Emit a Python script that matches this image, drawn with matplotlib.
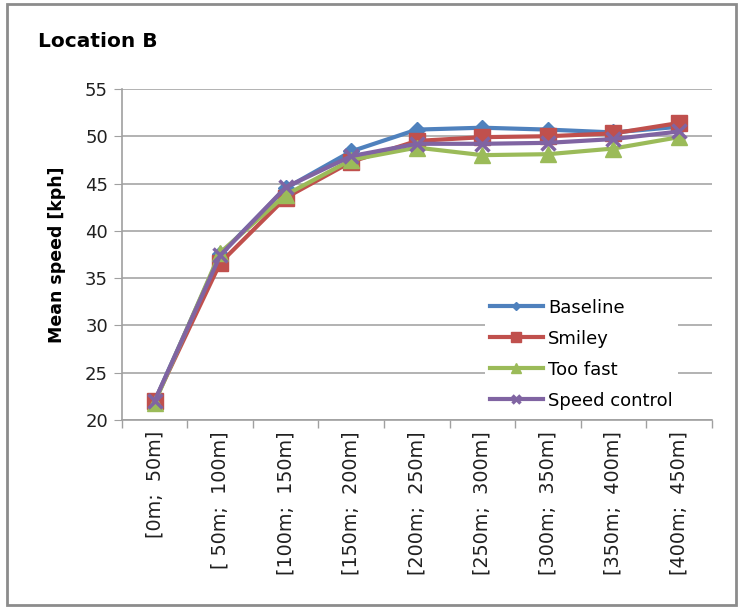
import numpy as np
import matplotlib
matplotlib.use("Agg")
import matplotlib.pyplot as plt
from matplotlib.patches import Rectangle

plt.rcParams['font.family'] = ['DejaVu Sans']

# distance bins along the road
bins = ['[0m; 50m]', '[ 50m; 100m]', '[100m; 150m]', '[150m; 200m]',
        '[200m; 250m]', '[250m; 300m]', '[300m; 350m]', '[350m; 400m]',
        '[400m; 450m]']

# mean speed per bin [kph]
baseline = [22.0, 37.5, 44.5, 48.4, 50.7, 50.9, 50.7, 50.4, 51.0]
smiley = [22.0, 36.6, 43.5, 47.3, 49.5, 49.9, 50.0, 50.3, 51.4]
too_fast = [21.8, 37.7, 43.8, 47.5, 48.8, 48.0, 48.1, 48.7, 49.9]
speed_control = [22.0, 37.4, 44.6, 47.9, 49.2, 49.2, 49.3, 49.7, 50.5]

series = [
    ('Baseline', baseline, '#4F81BD', 'D', 8),
    ('Smiley', smiley, '#C0504D', 's', 12),
    ('Too fast', too_fast, '#9BBB59', '^', 12),
    ('Speed control', speed_control, '#8064A2', 'x', 10),
]

fig = plt.figure(figsize=(7.43, 6.12), dpi=100)
ax = fig.add_axes([0.164, 0.3137, 0.794, 0.541])

x = np.arange(len(bins))
for name, vals, col, mk, ms in series:
    ax.plot(x, vals, color=col, lw=3, marker=mk, markersize=ms,
            markeredgewidth=2.5 if mk == 'x' else 1, markeredgecolor=col,
            label=name)

ax.set_ylim(20, 55)
ax.set_yticks(np.arange(20, 56, 5))
ax.set_xlim(-0.5, len(bins) - 0.5)
ax.set_xticks(x)
ax.set_xticklabels([b.replace('; ', ';  ') for b in bins], rotation=90,
                   fontsize=13.8, color='#202020')
ax.set_xticks(np.arange(-0.5, len(bins)), minor=True)
ax.tick_params(axis='x', which='major', length=0, pad=8)
ax.tick_params(axis='x', which='minor', length=6, color='#A0A0A0', width=1)
ax.tick_params(axis='y', length=6, color='#A0A0A0', labelsize=13,
               labelcolor='#202020', pad=4)

ax.grid(axis='y', color='#A6A6A6', lw=1.2)
ax.set_axisbelow(True)
for s in ['top', 'right']:
    ax.spines[s].set_visible(False)
for s in ['left', 'bottom']:
    ax.spines[s].set_color('#A0A0A0')
    ax.spines[s].set_linewidth(1.2)

ax.set_ylabel('Mean speed [kph]', fontsize=12.5, fontweight='bold', labelpad=14)

leg = ax.legend(loc='upper left', bbox_to_anchor=(0.6, 0.41), fontsize=13,
                frameon=True, fancybox=False, edgecolor='none',
                framealpha=1, handlelength=2.9, handletextpad=0.3,
                labelspacing=0.72, borderpad=0.3, markerscale=0.55)

fig.text(0.051, 0.932, 'Location B', fontsize=14.5, fontweight='bold',
         va='center', ha='left')

# outer chart border
fig.patches.append(Rectangle((0.009, 0.011), 0.981, 0.982,
                             transform=fig.transFigure, fill=False,
                             edgecolor='#8C8C8C', lw=2))

plt.savefig('out.png', dpi=100)
